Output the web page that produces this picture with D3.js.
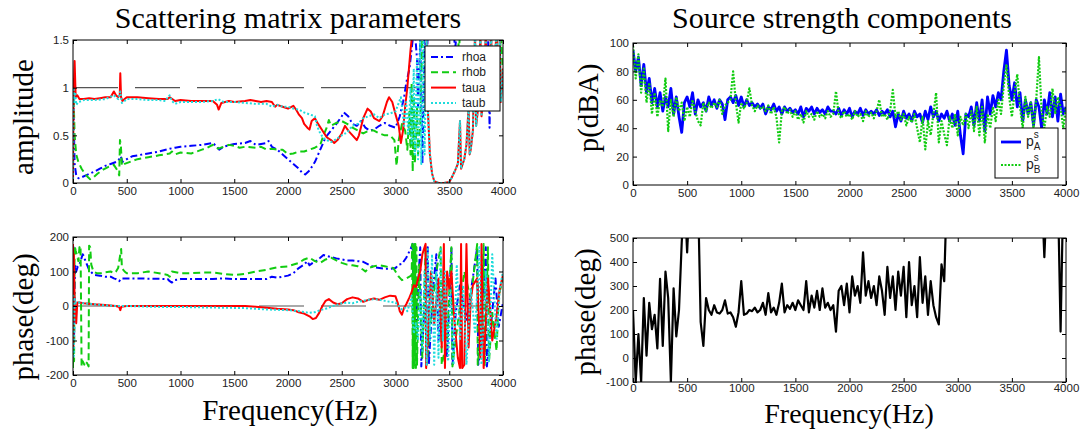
<!DOCTYPE html>
<html><head><meta charset="utf-8">
<script src="https://cdn.jsdelivr.net/npm/d3@7"></script>
<style>body{margin:0;background:#fff} svg{display:block}</style>
</head><body><svg id="c" width="1080" height="432"></svg>
<script>
// ---------- DATA ----------
const xTicks = [0,500,1000,1500,2000,2500,3000,3500,4000];
const ampTicks = [0,0.5,1,1.5];
const phaseTicks = [-200,-100,0,100,200];
const dbaTicks = [0,20,40,60,80,100];
const srcPhaseTicks = [-100,0,100,200,300,400,500];

// Scattering amplitude [frequency, value]
const rhoaAmp = [[0,1.1],[8,0.6],[15,0.2],[30,0.08],[50,0.05],[80,0.06],[120,0.08],[160,0.1],[200,0.12],[250,0.15],[300,0.18],[350,0.2],[400,0.22],[430,0.25],[445,0.28],[460,0.22],[500,0.25],[550,0.28],[600,0.29],[700,0.31],[800,0.33],[900,0.36],[950,0.37],[1000,0.38],[1100,0.39],[1200,0.4],[1300,0.42],[1340,0.38],[1360,0.35],[1400,0.38],[1500,0.41],[1600,0.42],[1650,0.44],[1700,0.4],[1750,0.41],[1800,0.42],[1820,0.44],[1850,0.38],[1900,0.35],[1950,0.3],[2000,0.25],[2050,0.2],[2100,0.15],[2130,0.11],[2160,0.09],[2200,0.13],[2250,0.22],[2300,0.35],[2350,0.48],[2400,0.55],[2450,0.62],[2500,0.7],[2520,0.74],[2560,0.7],[2600,0.62],[2640,0.6],[2680,0.65],[2720,0.58],[2760,0.55],[2800,0.56],[2850,0.6],[2900,0.63],[2950,0.6],[3000,0.58],[3040,0.7],[3080,0.9],[3100,1.05],[3130,1.2],[3160,1.5],[3180,1.6],[3200,1.3],[3210,0.8],[3230,1.5],[3250,0.2],[3270,1.6],[3290,1.2],[3300,1.6],[3540,1.6],[3555,1.4],[3570,1.6],[3860,1.6],[3875,0.58],[3890,1.6],[4000,1.6]];
const rhobAmp = [[0,1.1],[8,0.8],[15,0.5],[30,0.3],[50,0.22],[80,0.15],[110,0.1],[140,0.06],[160,0.04],[190,0.06],[230,0.1],[280,0.14],[330,0.17],[380,0.19],[420,0.12],[430,0.08],[437,0.45],[445,0.4],[455,0.18],[480,0.2],[550,0.23],[600,0.25],[700,0.27],[800,0.29],[850,0.3],[900,0.31],[920,0.33],[950,0.3],[1000,0.32],[1100,0.31],[1150,0.33],[1200,0.35],[1250,0.37],[1300,0.4],[1350,0.36],[1400,0.38],[1450,0.4],[1500,0.39],[1550,0.37],[1600,0.38],[1700,0.37],[1750,0.38],[1800,0.35],[1850,0.36],[1900,0.35],[1950,0.35],[2000,0.3],[2050,0.31],[2100,0.33],[2150,0.33],[2200,0.35],[2250,0.37],[2300,0.4],[2330,0.5],[2360,0.58],[2380,0.66],[2400,0.6],[2450,0.63],[2500,0.65],[2550,0.62],[2600,0.58],[2650,0.55],[2700,0.52],[2750,0.55],[2800,0.55],[2850,0.52],[2900,0.5],[2950,0.5],[2990,0.45],[3010,0.18],[3030,0.45],[3060,0.62],[3090,0.55],[3110,0.35],[3130,0.75],[3140,0.3],[3150,1.05],[3160,0.12],[3170,0.9],[3180,0.2],[3200,0.8],[3210,0.3],[3230,0.6],[3250,1.6],[3580,1.6],[3590,1.35],[3600,1.6],[3940,1.6],[3960,0.85],[3980,1.6],[4000,1.1]];
const tauaAmp = [[0,0],[5,0.9],[15,1.28],[25,0.9],[40,0.92],[60,0.88],[100,0.88],[150,0.89],[200,0.88],[250,0.89],[300,0.9],[350,0.9],[380,0.96],[400,0.92],[420,0.9],[435,0.92],[440,1.15],[447,0.9],[460,0.86],[480,0.88],[500,0.9],[600,0.9],[700,0.89],[800,0.88],[880,0.88],[900,0.9],[950,0.86],[1000,0.87],[1100,0.86],[1200,0.86],[1300,0.86],[1340,0.82],[1355,0.77],[1380,0.84],[1450,0.86],[1500,0.85],[1600,0.86],[1650,0.87],[1700,0.86],[1750,0.85],[1800,0.86],[1850,0.85],[1880,0.8],[1900,0.82],[1950,0.8],[2000,0.78],[2050,0.81],[2080,0.76],[2100,0.72],[2130,0.68],[2150,0.62],[2180,0.58],[2200,0.56],[2220,0.65],[2250,0.68],[2280,0.62],[2320,0.55],[2360,0.48],[2400,0.45],[2430,0.42],[2460,0.45],[2500,0.52],[2530,0.6],[2560,0.55],[2600,0.5],[2640,0.45],[2660,0.5],[2700,0.68],[2740,0.78],[2770,0.75],[2800,0.68],[2850,0.65],[2880,0.7],[2920,0.85],[2940,0.9],[2970,0.85],[3000,0.72],[3030,0.6],[3050,0.42],[3070,0.55],[3090,0.8],[3110,1.0],[3140,1.4],[3160,1.6],[3200,1.6],[3230,1.55],[3260,1.6],[3290,1.5],[3300,0.8],[3320,0.3],[3340,0.1],[3360,0.02],[3400,0.0],[3450,0.0],[3500,0.01],[3520,0.05],[3550,0.12],[3580,0.2],[3600,0.65],[3610,0.15],[3640,0.25],[3660,0.4],[3680,0.8],[3690,0.3],[3700,0.35],[3720,0.55],[3740,1.6],[3750,0.6],[3770,0.8],[3790,1.6],[3800,0.7],[3820,0.9],[3840,1.6],[3850,0.8],[3870,1.0],[3890,1.6],[3900,0.9],[3920,1.2],[3940,1.6],[3950,1.0],[3970,1.5],[3980,0.85],[4000,1.2]];
const taubAmp = [[0,0],[5,1.0],[12,0.85],[20,0.95],[30,0.82],[50,0.85],[80,0.86],[100,0.87],[200,0.87],[300,0.88],[380,0.92],[420,0.88],[440,0.96],[455,0.84],[480,0.86],[500,0.88],[600,0.88],[700,0.87],[800,0.87],[860,0.86],[880,0.9],[900,0.92],[920,0.86],[950,0.83],[1000,0.85],[1100,0.85],[1200,0.85],[1300,0.86],[1350,0.88],[1400,0.85],[1500,0.85],[1600,0.84],[1700,0.83],[1800,0.83],[1850,0.8],[1900,0.82],[1950,0.8],[2000,0.8],[2050,0.78],[2100,0.77],[2150,0.74],[2200,0.72],[2250,0.7],[2270,0.6],[2300,0.52],[2330,0.47],[2360,0.45],[2400,0.43],[2450,0.46],[2500,0.5],[2550,0.53],[2600,0.6],[2650,0.62],[2700,0.68],[2750,0.7],[2800,0.72],[2850,0.68],[2900,0.72],[2950,0.73],[3000,0.75],[3050,0.9],[3080,0.6],[3100,0.85],[3120,0.5],[3140,1.0],[3150,0.4],[3170,1.2],[3180,0.3],[3200,1.3],[3210,0.25],[3230,1.5],[3240,0.2],[3260,1.6],[3270,0.3],[3290,1.5],[3300,0.8],[3320,0.3],[3340,0.1],[3360,0.02],[3400,0.0],[3450,0.0],[3500,0.01],[3520,0.05],[3550,0.12],[3580,0.2],[3600,0.65],[3610,0.15],[3640,0.25],[3660,0.4],[3680,0.8],[3690,0.3],[3700,0.35],[3720,0.55],[3740,1.6],[3750,0.6],[3770,0.8],[3790,1.6],[3800,0.7],[3820,0.9],[3840,1.6],[3850,0.8],[3870,1.0],[3890,1.6],[3900,0.9],[3920,1.2],[3940,1.6],[3950,1.0],[3970,1.5],[3980,0.85],[4000,1.2]];

// Scattering phase [frequency, degrees]
const rhoaPh = [[0,-150],[5,170],[10,-100],[15,60],[20,120],[30,100],[45,115],[60,120],[75,135],[90,150],[100,145],[110,135],[130,120],[150,105],[180,95],[200,90],[250,88],[300,85],[350,85],[380,80],[400,78],[430,72],[450,80],[480,80],[500,80],[600,80],[700,79],[800,79],[880,78],[900,72],[920,68],[940,75],[1000,78],[1100,78],[1200,78],[1300,78],[1400,80],[1500,78],[1600,78],[1700,78],[1800,78],[1850,85],[1900,82],[2000,88],[2050,95],[2100,110],[2150,120],[2180,130],[2200,118],[2230,125],[2260,130],[2300,140],[2330,148],[2360,145],[2400,142],[2450,138],[2500,135],[2550,132],[2600,132],[2650,130],[2700,128],[2750,120],[2800,112],[2850,110],[2900,108],[2950,108],[3000,110],[3030,120],[3060,122],[3100,140],[3140,165],[3160,180],[3170,-170],[3190,-50],[3210,60],[3230,170],[3240,-175],[3270,0],[3300,170],[3310,-170],[3350,50],[3380,150],[3400,-100],[3440,60],[3480,-150],[3520,170],[3530,-175],[3560,-20],[3600,60],[3660,-40],[3700,40],[3760,170],[3770,-170],[3800,-100],[3840,170],[3850,-175],[3890,-50],[3930,80],[3960,-60],[4000,10]];
const rhobPh = [[0,-180],[5,170],[10,-160],[15,175],[25,160],[35,150],[50,130],[60,170],[70,175],[80,-175],[90,-160],[105,-170],[110,-160],[130,-165],[145,-175],[150,175],[160,170],[170,120],[190,100],[220,95],[260,95],[300,98],[350,100],[380,95],[400,100],[420,110],[440,150],[448,165],[455,110],[480,100],[500,95],[600,95],[700,100],[800,95],[880,90],[900,85],[920,100],[1000,95],[1100,95],[1200,97],[1300,97],[1400,93],[1500,90],[1600,93],[1700,100],[1800,105],[1900,112],[2000,115],[2100,125],[2150,135],[2200,140],[2250,130],[2300,125],[2350,135],[2400,140],[2450,132],[2500,125],[2550,120],[2600,118],[2650,115],[2700,105],[2720,100],[2750,110],[2800,115],[2850,118],[2900,115],[2950,112],[2980,110],[3000,100],[3030,85],[3060,75],[3100,80],[3130,85],[3150,90],[3155,180],[3160,-180],[3165,180],[3170,-180],[3175,180],[3180,-180],[3185,180],[3190,-180],[3195,170],[3200,-170],[3220,120],[3250,-150],[3280,170],[3290,-170],[3330,-30],[3380,100],[3420,170],[3430,-170],[3480,-100],[3520,170],[3530,-175],[3550,-120],[3600,0],[3640,100],[3700,20],[3760,180],[3765,-170],[3800,-50],[3820,180],[3830,-175],[3860,170],[3870,-160],[3900,-20],[3940,-130],[3960,30],[4000,80]];
const tauaPh = [[0,180],[3,-120],[8,150],[15,10],[30,-50],[40,10],[60,10],[100,8],[200,5],[300,3],[400,0],[430,-3],[440,-12],[450,-2],[500,0],[600,0],[800,0],[1000,0],[1200,0],[1400,0],[1600,0],[1700,-2],[1800,-5],[1900,-8],[2000,-10],[2050,-12],[2100,-18],[2150,-22],[2200,-30],[2230,-38],[2260,-35],[2290,-20],[2320,0],[2350,15],[2380,20],[2420,10],[2460,5],[2500,8],[2550,20],[2600,25],[2650,22],[2700,12],[2750,18],[2800,22],[2850,18],[2900,25],[2950,30],[3000,28],[3020,10],[3040,-15],[3060,-25],[3080,-5],[3100,5],[3130,25],[3150,40],[3170,60],[3190,55],[3210,80],[3230,100],[3250,150],[3270,170],[3280,180],[3285,-180],[3300,-100],[3330,100],[3360,-50],[3400,80],[3430,-120],[3450,180],[3460,-180],[3480,100],[3500,50],[3520,100],[3550,-50],[3580,-150],[3600,-180],[3610,180],[3620,-180],[3640,-170],[3660,180],[3680,-120],[3700,20],[3720,60],[3760,80],[3790,-150],[3800,180],[3820,-180],[3860,80],[3900,-100],[3940,-30],[3970,50],[4000,90]];
const taubPh = [[0,-100],[3,30],[8,-150],[15,20],[25,10],[40,12],[60,10],[100,8],[200,5],[300,2],[400,0],[500,0],[700,-2],[900,-3],[1000,-3],[1200,-4],[1400,-5],[1600,-6],[1800,-10],[2000,-12],[2100,-15],[2200,-20],[2250,-18],[2300,-12],[2350,-8],[2400,-2],[2450,3],[2500,8],[2550,10],[2600,8],[2650,12],[2700,15],[2750,18],[2800,20],[2850,18],[2900,15],[2950,12],[3000,10],[3030,0],[3060,-10],[3090,-5],[3110,-15],[3130,5],[3150,30],[3170,-80],[3190,-50],[3210,-100],[3230,50],[3250,-130],[3270,100],[3290,-170],[3300,170],[3320,-100],[3340,150],[3360,-170],[3380,100],[3400,-150],[3420,170],[3440,-100],[3460,100],[3490,-160],[3510,50],[3540,-170],[3570,120],[3600,-100],[3630,60],[3660,-170],[3700,50],[3740,-80],[3780,170],[3800,-170],[3840,100],[3870,-160],[3900,150],[3940,-100],[3970,50],[4000,100]];

// Source strength: 25 Hz grid, 0..4000 Hz
const srcFreq = d3.range(0, 4001, 25);
const pA = [95,80,90,70,85,65,75,58,68,55,65,52,62,55,68,50,62,48,37,58,
 62,55,65,50,60,55,58,52,62,56,60,54,60,57,46,60,62,58,63,56,
 62,55,60,56,58,55,57,54,57,50,55,53,57,52,55,50,55,52,54,51,
 53,50,55,48,54,52,55,50,54,51,53,50,55,52,52,50,54,49,53,50,
 54,48,52,50,54,49,53,50,52,50,53,49,52,50,53,48,52,41,50,45,
 52,47,50,45,52,48,50,44,52,46,55,48,52,45,50,47,52,45,50,42,
 52,35,22,50,48,55,42,58,45,60,38,62,50,63,55,65,60,80,95,70,
 60,72,55,65,45,60,50,58,42,60,55,40,60,50,65,48,62,45,64,50,
 55];
const pB = [98,75,92,65,82,58,72,50,65,48,60,55,75,38,60,48,62,52,58,45,
 55,48,60,52,45,42,58,52,58,54,58,55,60,50,56,58,60,80,58,44,
 58,54,58,68,56,52,56,54,55,52,56,50,55,48,30,52,55,50,53,48,
 52,46,50,44,52,48,50,46,52,48,50,47,52,48,50,66,50,47,52,48,
 50,46,52,48,50,45,52,48,51,47,52,60,48,50,46,52,67,48,52,46,
 50,42,48,44,50,40,30,48,25,45,35,50,65,30,45,36,28,48,40,50,
 35,48,42,50,40,52,38,55,35,55,30,50,40,55,45,60,50,70,85,62,
 48,65,78,55,40,62,48,58,40,60,90,52,40,55,48,68,50,62,55,40,
 55];
const srcPhase = [200,-100,100,-100,250,10,230,120,180,40,330,50,360,250,-100,290,90,200,480,700,
 440,700,700,700,700,150,50,250,200,180,220,190,185,200,240,185,190,170,130,190,
 320,180,185,200,195,210,190,200,230,180,270,190,210,180,230,310,190,220,205,230,
 200,240,220,200,320,190,260,210,280,200,290,210,230,200,220,110,280,300,220,310,
 190,340,260,300,230,440,260,320,250,300,220,340,280,180,380,250,340,200,360,260,
 380,170,400,220,300,170,420,230,340,180,320,220,170,140,390,320,700,700,700,700,
 700,700,700,700,700,700,700,700,700,700,700,700,700,700,700,700,700,700,700,700,
 700,700,700,700,700,700,700,700,700,700,700,700,420,700,700,700,700,700,110,700,
 700];

const scatNames = ['rhoa','rhob','taua','taub'];

// ---------- DRAW ----------
const svg = d3.select('#c');
svg.append('rect').attr('width',1080).attr('height',432).attr('fill','#fff');
const C = {blue:'#0000ff', green:'#11cc11', red:'#ff0000', cyan:'#1fdcdc', black:'#000'};
const serif = '"Liberation Serif","Times New Roman",serif';
const sans = '"Liberation Sans",Arial,sans-serif';

function panel(o) {
  const x = d3.scaleLinear().domain([0,4000]).range([o.x0,o.x1]);
  const y = d3.scaleLinear().domain(o.yDomain).range([o.y1,o.y0]);
  const cid = 'clip' + o.id;
  svg.append('clipPath').attr('id',cid).append('rect')
    .attr('x',o.x0).attr('y',o.y0).attr('width',o.x1-o.x0).attr('height',o.y1-o.y0);
  const g = svg.append('g');
  const pg = g.append('g').attr('clip-path',`url(#${cid})`);
  if (o.refLine !== undefined) {
    pg.append('line').attr('x1',x(0)).attr('x2',x(4000)).attr('y1',y(o.refLine)).attr('y2',y(o.refLine))
      .attr('stroke','#555').attr('stroke-width',1.2).attr('stroke-dasharray','45,17');
  }
  o.series.forEach(s => {
    const line = d3.line().x(d => x(d[0])).y(d => y(d[1]));
    pg.append('path').datum(s.data).attr('d',line).attr('fill','none')
      .attr('stroke',s.color).attr('stroke-width',s.width||2)
      .attr('stroke-dasharray',s.dash||null).attr('stroke-linejoin','round');
  });
  const ax = [
    [d3.axisBottom(x).tickValues(xTicks).tickFormat(d=>d).tickPadding(o.xPad||4), `translate(0,${o.y1})`],
    [d3.axisTop(x).tickValues(xTicks).tickFormat('').tickPadding(4), `translate(0,${o.y0})`],
    [d3.axisLeft(y).tickValues(o.yTicks).tickFormat(d=>d).tickPadding(4), `translate(${o.x0},0)`],
    [d3.axisRight(y).tickValues(o.yTicks).tickFormat('').tickPadding(4), `translate(${o.x1},0)`]
  ];
  ax.forEach(([a,t]) => {
    const ag = g.append('g').attr('transform',t).call(a.tickSize(-4).tickSizeOuter(0));
    ag.select('.domain').remove();
    ag.selectAll('line').attr('stroke','#000');
    ag.attr('font-family',sans).attr('font-size',11.5);
    ag.selectAll('text').attr('fill','#222');
  });
  g.append('rect').attr('x',o.x0).attr('y',o.y0).attr('width',o.x1-o.x0).attr('height',o.y1-o.y0)
    .attr('fill','none').attr('stroke','#000').attr('stroke-width',1);
  return {x,y,g};
}

const zipF = arr => arr.map((v,i) => [srcFreq[i], v]);

const scatAmp = [
  {name:'rhoa', data:rhoaAmp, color:C.blue, dash:'7,3,2,3'},
  {name:'rhob', data:rhobAmp, color:C.green, dash:'7,4'},
  {name:'taua', data:tauaAmp, color:C.red},
  {name:'taub', data:taubAmp, color:C.cyan, dash:'2,2'}
];
panel({id:1, x0:73, x1:503, y0:40, y1:183, yDomain:[0,1.5], yTicks:ampTicks, refLine:1, series:scatAmp});
panel({id:2, x0:73, x1:503, y0:237, y1:375, yDomain:[-200,200], yTicks:phaseTicks, refLine:0, series:[
  {data:rhoaPh, color:C.blue, dash:'7,3,2,3'},
  {data:rhobPh, color:C.green, dash:'7,4'},
  {data:tauaPh, color:C.red},
  {data:taubPh, color:C.cyan, dash:'2,2'}
]});
panel({id:3, x0:633, x1:1066, y0:43, y1:185, yDomain:[0,100], yTicks:dbaTicks, series:[
  {data:zipF(pA), color:C.blue, width:2.8},
  {data:zipF(pB), color:C.green, width:2.2, dash:'2,1.5'}
]});
panel({id:4, x0:633, x1:1066, y0:238, y1:382, yDomain:[-100,500], yTicks:srcPhaseTicks, xPad:2, series:[
  {data:zipF(srcPhase), color:C.black, width:2.2}
]});

const T = (txt,x,y,size,rot) => {
  const t = svg.append('text').text(txt).attr('font-family',serif).attr('font-size',size)
    .attr('text-anchor','middle').attr('fill','#000');
  if (rot) t.attr('transform',`translate(${x},${y}) rotate(-90)`); else t.attr('x',x).attr('y',y);
  return t;
};
T('Scattering matrix parameters', 288, 28, 30);
T('Source strength components', 842, 28, 30);
T('Frequency(Hz)', 290, 420, 29);
T('Frequency(Hz)', 849, 423, 28);
T('amplitude', 33, 117, 29, true);
T('phase(deg)', 33, 317, 29, true);
T('p(dBA)', 598, 108, 29, true);
T('phase(deg)', 595, 312, 29, true);

const lg1 = svg.append('g');
lg1.append('rect').attr('x',425).attr('y',46).attr('width',75).attr('height',65)
  .attr('fill','#fff').attr('stroke','#000');
scatAmp.forEach((s,i) => {
  const yy = 57 + i*15.3;
  lg1.append('line').attr('x1',431).attr('x2',456).attr('y1',yy).attr('y2',yy)
    .attr('stroke',s.color).attr('stroke-width',2).attr('stroke-dasharray',s.dash||null);
  lg1.append('text').attr('x',462).attr('y',yy+4).text(scatNames[i])
    .attr('font-family',sans).attr('font-size',12).attr('fill','#222');
});
const lg3 = svg.append('g');
lg3.append('rect').attr('x',995).attr('y',128).attr('width',63).attr('height',50)
  .attr('fill','#fff').attr('stroke','#000');
[['A',C.blue,null,2.8],['B',C.green,'2,1.5',2.2]].forEach(([sub,col,dash,w],i) => {
  const yy = 142 + i*23;
  lg3.append('line').attr('x1',1001).attr('x2',1021).attr('y1',yy).attr('y2',yy)
    .attr('stroke',col).attr('stroke-width',w).attr('stroke-dasharray',dash);
  const t = lg3.append('text').attr('x',1026).attr('y',yy+4).attr('font-family',sans)
    .attr('font-size',14).attr('fill','#222');
  t.append('tspan').text('p');
  t.append('tspan').attr('font-size',10).attr('dy',-8).text('s');
  t.append('tspan').attr('font-size',10).attr('dx',-5).attr('dy',12).text(sub);
});
</script></body></html>
